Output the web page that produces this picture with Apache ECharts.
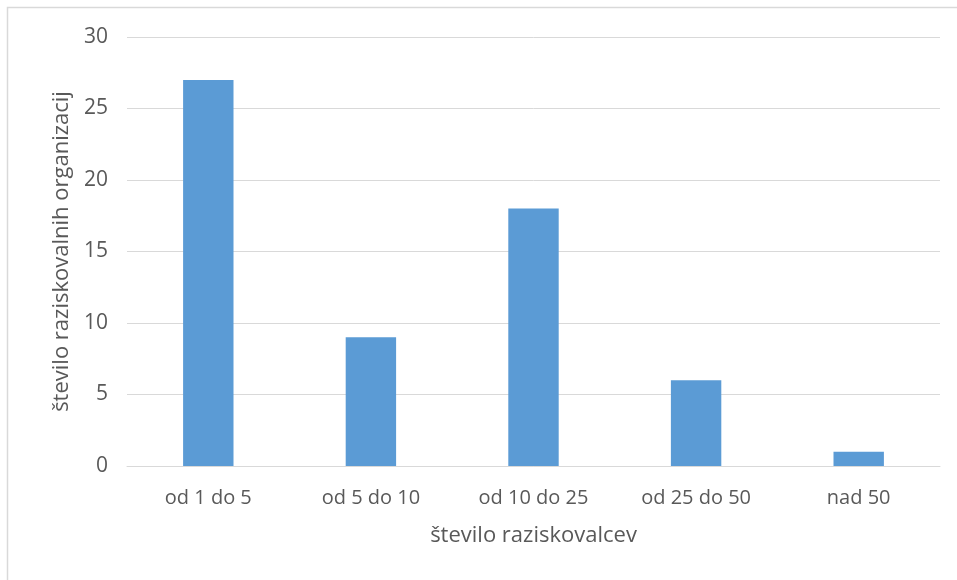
<!DOCTYPE html>
<html>
<head>
<meta charset="utf-8">
<script src="https://cdn.jsdelivr.net/npm/echarts@6/dist/echarts.min.js"></script>
<style>
html,body{margin:0;padding:0;background:#fff;}
#c{width:957px;height:580px;}
</style>
</head>
<body>
<div id="c"></div>
<script>
const categories = ['od 1 do 5', 'od 5 do 10', 'od 10 do 25', 'od 25 do 50', 'nad 50'];
const values = [27, 9, 18, 6, 1];
const yTicks = [0, 5, 10, 15, 20, 25, 30];
const xTitle = 'število raziskovalcev';
const yTitle = 'število raziskovalnih organizacij';

const chart = echarts.init(document.getElementById('c'), null, {renderer: 'canvas'});
const font = '"Open Sans", "Noto Sans", sans-serif';
chart.setOption({
  animation: false,
  backgroundColor: '#fff',
  graphic: [{
    type: 'rect',
    shape: {x: 7.5, y: 7.5, width: 960, height: 590},
    style: {fill: 'none', stroke: '#d9d9d9', lineWidth: 1.5},
    silent: true
  }],
  grid: {left: 127, right: 17, top: 37, bottom: 114},
  xAxis: {
    type: 'category',
    data: categories,
    name: xTitle,
    nameLocation: 'middle',
    nameGap: 59,
    nameTextStyle: {color: '#595959', fontSize: 22, fontFamily: font},
    axisLine: {show: true, lineStyle: {color: '#d9d9d9', width: 1}},
    axisTick: {show: false},
    axisLabel: {color: '#595959', fontSize: 20, fontFamily: font, margin: 22}
  },
  yAxis: {
    type: 'value',
    min: yTicks[0],
    max: yTicks[yTicks.length - 1],
    interval: 5,
    name: yTitle,
    nameLocation: 'middle',
    nameGap: 52,
    nameTextStyle: {color: '#595959', fontSize: 22, fontFamily: font},
    axisLine: {show: false},
    axisTick: {show: false},
    splitLine: {lineStyle: {color: '#d9d9d9', width: 1}},
    axisLabel: {color: '#595959', fontSize: 21, fontFamily: font, margin: 19}
  },
  series: [{
    type: 'bar',
    data: values,
    barWidth: '31%',
    itemStyle: {color: '#5b9bd5'}
  }]
});
</script>
</body>
</html>
